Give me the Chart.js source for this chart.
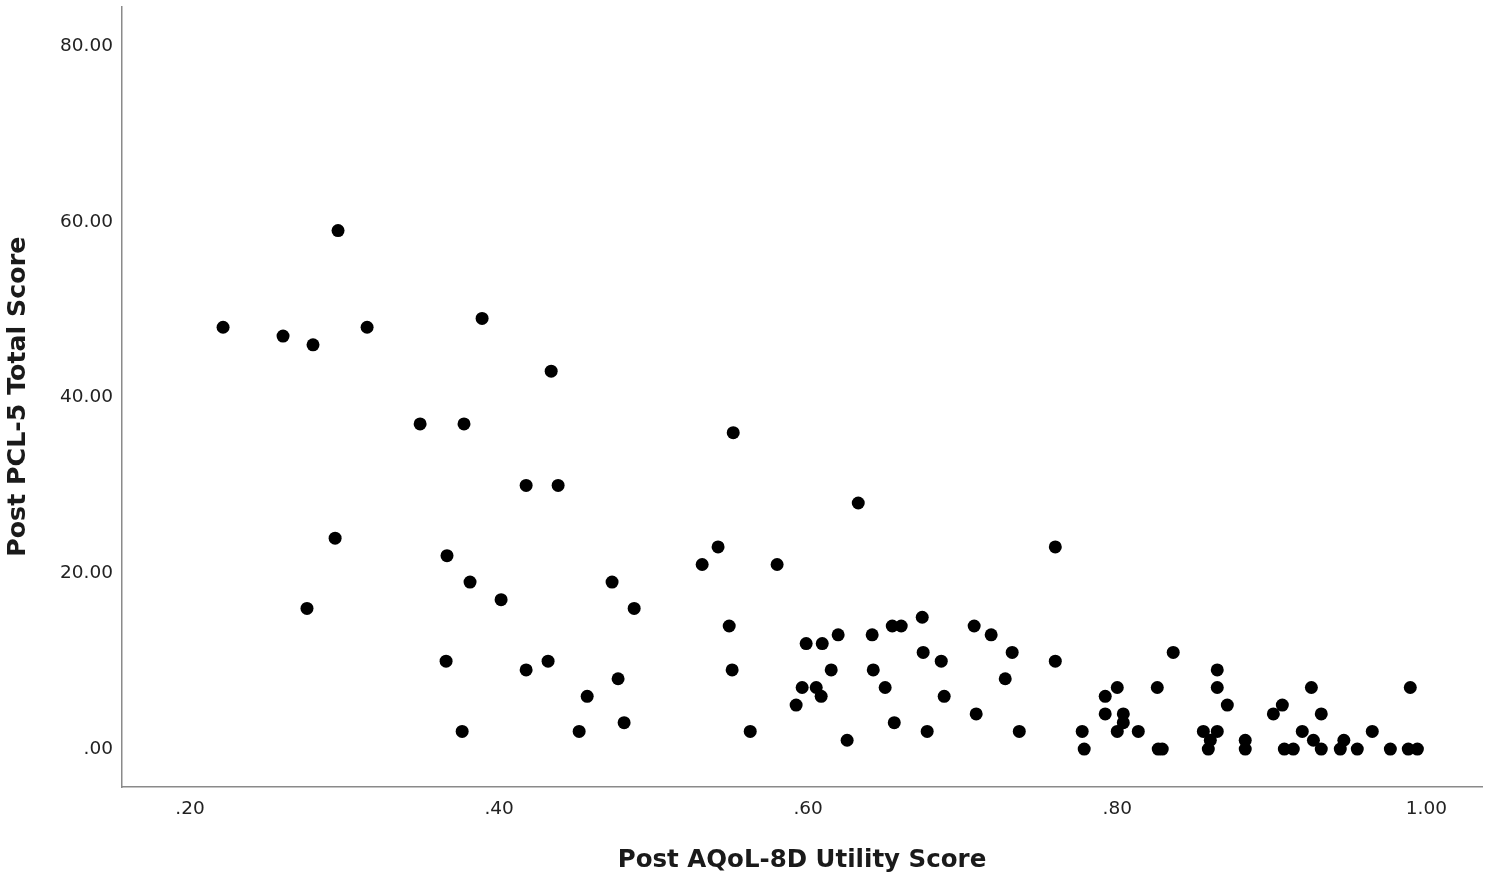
<!DOCTYPE html>
<html>
<head>
<meta charset="utf-8">
<script src="https://cdn.jsdelivr.net/npm/chart.js@4/dist/chart.umd.min.js"></script>
<style>
  html, body { margin: 0; padding: 0; background: #ffffff; }
  #wrap { position: relative; width: 1499px; height: 882px; }
</style>
</head>
<body>
<div id="wrap"><canvas id="c"></canvas></div>
<script>
// Post AQoL-8D Utility Score (x)
const utilityScores = [
  0.2214, 0.2602, 0.2796, 0.2958, 0.3146, 0.2757, 0.2939, 0.3489, 0.3773, 0.3890,
  0.4337, 0.3663, 0.3812, 0.4013, 0.3657, 0.3761, 0.4175, 0.4382, 0.4175, 0.4317,
  0.4518, 0.4570, 0.4731, 0.4770, 0.4809, 0.4874, 0.5314, 0.5417, 0.5515, 0.5489,
  0.5508, 0.5625, 0.5799, 0.5922, 0.5961, 0.5987, 0.6052, 0.6084, 0.6091, 0.6149,
  0.6194, 0.6252, 0.6324, 0.6414, 0.6421, 0.6498, 0.6544, 0.6557, 0.6602, 0.6738,
  0.6744, 0.6770, 0.6861, 0.6880, 0.7074, 0.7087, 0.7184, 0.7275, 0.7320, 0.7366,
  0.7599, 0.7599, 0.7773, 0.7786, 0.7922, 0.7922, 0.8000, 0.8000, 0.8039, 0.8039,
  0.8136, 0.8259, 0.8265, 0.8291, 0.8362, 0.8557, 0.8602, 0.8589, 0.8647, 0.8647,
  0.8647, 0.8712, 0.8828, 0.8828, 0.9010, 0.9068, 0.9081, 0.9139, 0.9197, 0.9256,
  0.9269, 0.9320, 0.9320, 0.9443, 0.9466, 0.9553, 0.9650, 0.9767, 0.9896, 0.9883,
  0.9942
];
// Post PCL-5 Total Score (y)
const pclScores = [
  48, 47, 46, 59, 48, 16, 24, 37, 37, 49,
  43, 22, 19, 17, 10, 2, 30, 30, 9, 10,
  2, 6, 19, 8, 3, 16, 21, 23, 36, 14,
  9, 2, 21, 5, 7, 12, 7, 6, 12, 9,
  13, 1, 28, 13, 9, 7, 14, 3, 14, 15,
  11, 2, 10, 6, 14, 4, 13, 8, 11, 2,
  23, 10, 2, 0, 6, 4, 7, 2, 4, 3,
  2, 7, 0, 0, 11, 2, 1, 0, 9, 7,
  2, 5, 1, 0, 4, 5, 0, 0, 2, 7,
  1, 4, 0, 0, 1, 0, 2, 0, 7, 0,
  0
];
const xTicks = [0.2, 0.4, 0.6, 0.8, 1.0];
const yTicks = [0, 20, 40, 60, 80];
const xTitle = 'Post AQoL-8D Utility Score';
const yTitle = 'Post PCL-5 Total Score';

const points = utilityScores.map((x, i) => ({ x: x, y: pclScores[i] }));
const fmt = v => { const s = Number(v).toFixed(2); return s.startsWith('0') ? s.slice(1) : s; };

const tickFont = { family: 'DejaVu Sans', size: 18.5 };
const xTitleFont = { family: 'DejaVu Sans', size: 24.5, weight: 'bold' };
const yTitleFont = { family: 'DejaVu Sans', size: 25.3, weight: 'bold' };

new Chart(document.getElementById('c'), {
  type: 'scatter',
  data: {
    datasets: [{
      data: points,
      backgroundColor: '#000000',
      borderWidth: 0,
      pointRadius: 6.5,
      pointHoverRadius: 6.5
    }]
  },
  options: {
    responsive: true,
    maintainAspectRatio: false,
    animation: false,
    events: [],
    layout: { padding: { top: 5, right: 17, left: 0, bottom: 0 } },
    plugins: { legend: { display: false }, tooltip: { enabled: false } },
    scales: {
      x: {
        type: 'linear',
        min: 0.156,
        max: 1.036,
        grid: { display: false, drawTicks: false },
        border: { display: true, color: '#8a8a8a', width: 1.5 },
        afterBuildTicks: s => { s.ticks = xTicks.map(v => ({ value: v })); },
        afterFit: s => { s.height = 95; s.paddingLeft = 0; s.paddingRight = 0; },
        ticks: { color: '#222', font: tickFont, padding: 11, maxRotation: 0, autoSkip: false, callback: v => fmt(v) },
        title: { display: true, text: xTitle, color: '#1a1a1a', font: xTitleFont, padding: { top: 0, bottom: 6.3 } }
      },
      y: {
        type: 'linear',
        min: -4.32,
        max: 84.5,
        grid: { display: false, drawTicks: false },
        border: { display: true, color: '#8a8a8a', width: 1.5 },
        afterBuildTicks: s => { s.ticks = yTicks.map(v => ({ value: v })); },
        afterFit: s => { s.width = 122; s.paddingTop = 0; s.paddingBottom = 0; },
        ticks: { color: '#222', font: tickFont, padding: 9, autoSkip: false, callback: v => fmt(v) },
        title: { display: true, text: yTitle, color: '#1a1a1a', font: yTitleFont, padding: { top: 3.3, bottom: 0 } }
      }
    }
  }
});
</script>
</body>
</html>
